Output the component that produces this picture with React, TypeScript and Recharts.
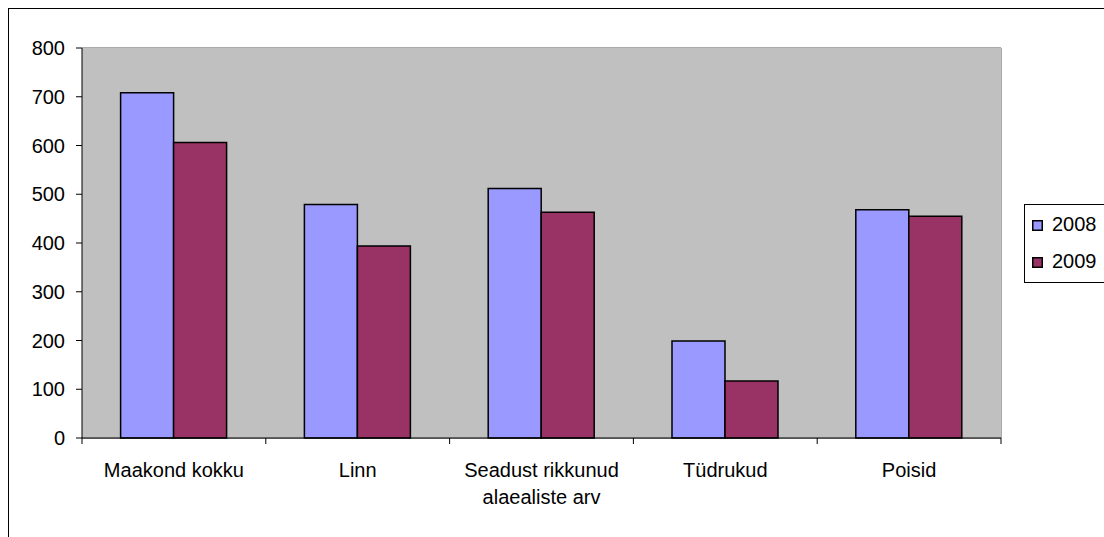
import React from 'react';
import { BarChart, Bar, XAxis, YAxis, CartesianGrid, Legend, Text } from 'recharts';

const categories = ['Maakond kokku', 'Linn', 'Seadust rikkunud alaealiste arv', 'Tüdrukud', 'Poisid'];
const values2008 = [708, 479, 512, 199, 468];
const values2009 = [606, 394, 463, 117, 455];
const yTicks = [0, 100, 200, 300, 400, 500, 600, 700, 800];
const seriesNames = ['2008', '2009'];

const data = categories.map((c, i) => ({ name: c, v2008: values2008[i], v2009: values2009[i] }));

const FONT = '"Liberation Sans", Arial, sans-serif';
const W = 1095;
const H = 528;
const M = { top: 39, right: 103, bottom: 39, left: 0 };
const Y_W = 73;
const PLOT_W = W - M.right - Y_W;

const XTick = (props: any) => {
  const { x, y, payload, index } = props;
  const half = payload && typeof payload.offset === 'number' && payload.offset > 0 ? payload.offset : PLOT_W / categories.length / 2;
  const axisY = y - 8;
  return (
    <g>
      <line x1={x - half} x2={x - half} y1={axisY} y2={axisY + 6} stroke="#000" strokeWidth={1} />
      {index === categories.length - 1 && (
        <line x1={x + half} x2={x + half} y1={axisY} y2={axisY + 6} stroke="#000" strokeWidth={1} />
      )}
      <Text
        x={x}
        y={y + 17}
        width={175}
        textAnchor="middle"
        verticalAnchor="start"
        lineHeight={27}
        fontSize={20}
        fontFamily={FONT}
        fill="#000"
      >
        {payload.value}
      </Text>
    </g>
  );
};

const LegendContent = (props: any) => {
  const payload = props.payload || [];
  return (
    <svg width={82} height={79} style={{ display: 'block' }}>
      <rect x={0.5} y={0.5} width={90} height={78} fill="#fff" stroke="#000" strokeWidth={1} />
      {payload.map((p: any, i: number) => (
        <g key={i}>
          <rect x={8.75} y={16.75 + i * 37} width={9.5} height={9.5} fill={p.color} stroke="#000" strokeWidth={1.5} />
          <text x={28} y={27 + i * 37} fontSize={20} fontFamily={FONT} fill="#000">
            {p.value}
          </text>
        </g>
      ))}
    </svg>
  );
};

export default function App() {
  return (
    <div
      style={{
        position: 'fixed',
        left: 8,
        top: 8,
        width: 1096,
        height: 529,
        borderTop: '1px solid #000',
        borderLeft: '1px solid #000',
        boxSizing: 'border-box',
        background: '#fff',
      }}
    >
      <BarChart width={W} height={H} data={data} margin={M} barCategoryGap="21%" barGap={0}>
        <rect x={Y_W} y={M.top} width={PLOT_W} height={H - M.top - M.bottom - 60} fill="#C0C0C0" />
        <CartesianGrid
          stroke="#555"
          strokeWidth={1}
          vertical={true}
          horizontal={true}
          verticalCoordinatesGenerator={({ offset }: any) => [offset.left + offset.width]}
        />
        <XAxis
          dataKey="name"
          height={60}
          interval={0}
          tickLine={false}
          axisLine={{ stroke: '#000', strokeWidth: 1 }}
          tick={<XTick />}
        />
        <YAxis
          width={Y_W}
          domain={[0, 800]}
          ticks={yTicks}
          interval={0}
          tickSize={6}
          tickMargin={11}
          axisLine={{ stroke: '#000', strokeWidth: 1 }}
          tickLine={{ stroke: '#000' }}
          tick={{ fontSize: 20, fontFamily: FONT, fill: '#000' }}
        />
        <Legend
          layout="vertical"
          align="center"
          verticalAlign="middle"
          content={<LegendContent />}
          wrapperStyle={{ left: 1015, top: 195, width: 82, height: 79 }}
        />
        <Bar dataKey="v2008" name={seriesNames[0]} fill="#9999FF" stroke="#000" strokeWidth={1.5} isAnimationActive={false} />
        <Bar dataKey="v2009" name={seriesNames[1]} fill="#993366" stroke="#000" strokeWidth={1.5} isAnimationActive={false} />
      </BarChart>
    </div>
  );
}
